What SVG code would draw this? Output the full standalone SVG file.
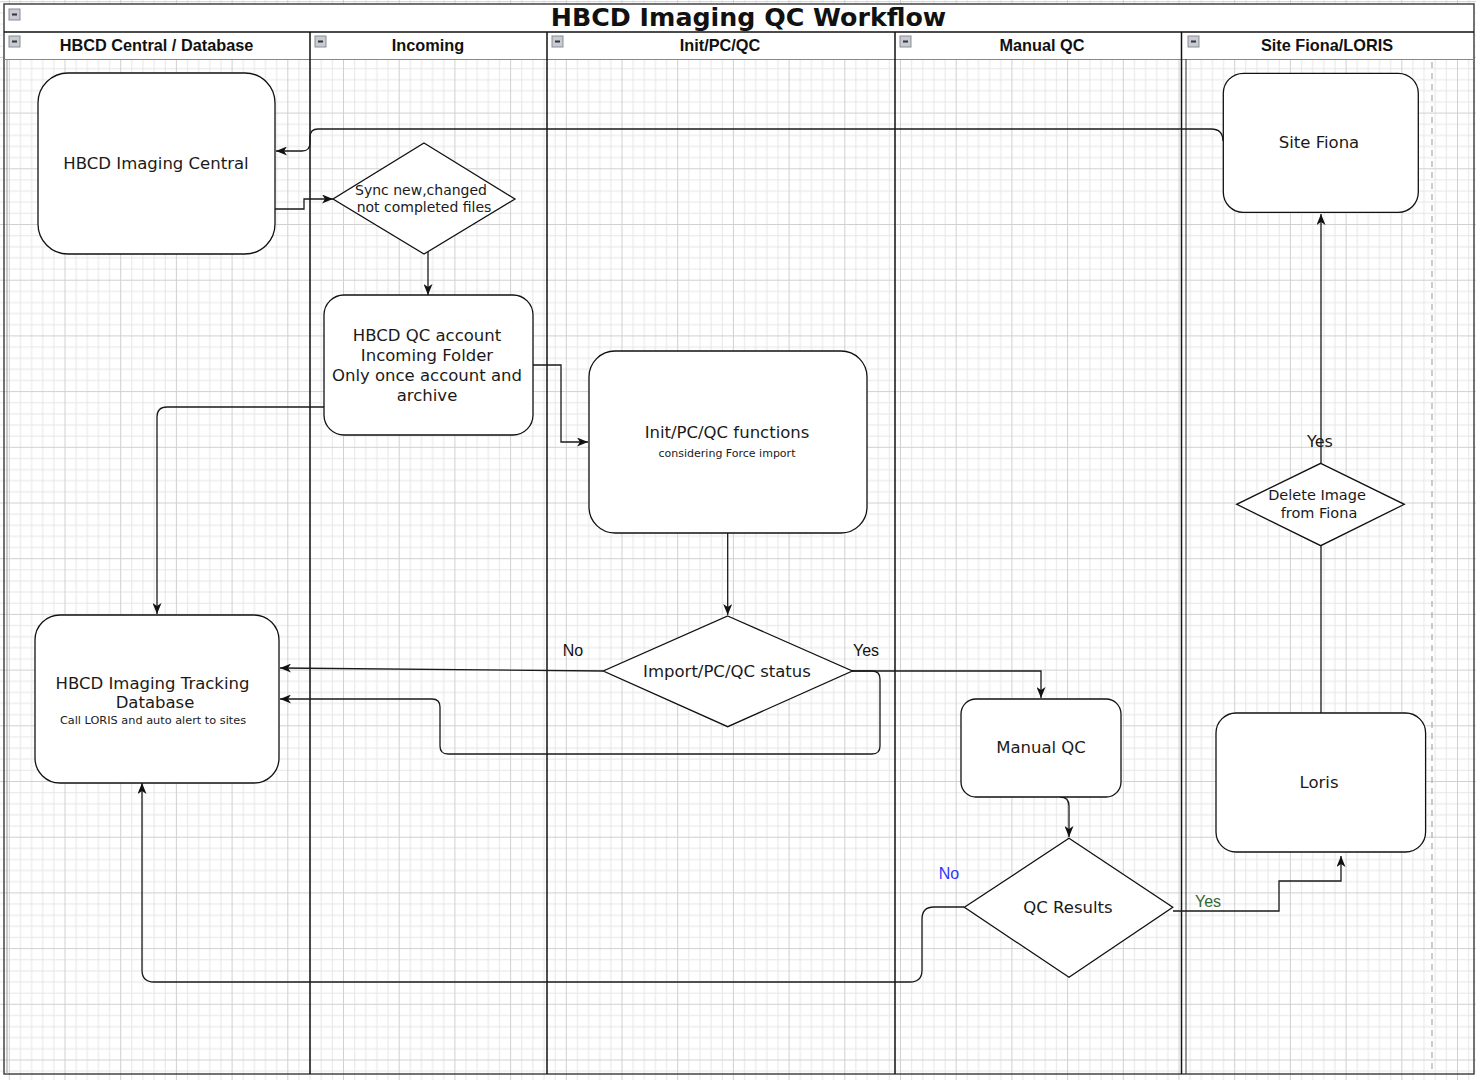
<svg xmlns="http://www.w3.org/2000/svg" width="1476" height="1080" viewBox="0 0 1476 1080">
<defs>
<pattern id="grid" width="55.7" height="55.7" patternUnits="userSpaceOnUse" x="8.8" y="1.2">
<path d="M11.64,0V55.7M22.78,0V55.7M33.92,0V55.7M45.06,0V55.7M0,11.64H55.7M0,22.78H55.7M0,33.92H55.7M0,45.06H55.7" stroke="#e6e6e6" stroke-width="1" fill="none"/>
<path d="M0.5,0V55.7M0,0.5H55.7" stroke="#d0d0d0" stroke-width="1" fill="none"/>
</pattern>
<marker id="arr" viewBox="0 0 11 9" refX="11" refY="4.5" markerWidth="11" markerHeight="9" markerUnits="userSpaceOnUse" orient="auto">
<path d="M0,0 L11,4.5 L0,9 L3,4.5 Z" fill="#111"/>
</marker>
<g id="icon">
<rect x="0" y="0" width="11" height="11" fill="#c9cbd3" stroke="#8a8d96" stroke-width="1"/>
<path d="M3,5.5H8" stroke="#333" stroke-width="2"/>
</g>
</defs>
<style>
.node{fill:#fff;stroke:#111;stroke-width:1.3}
.lbl{font-family:"DejaVu Sans",Verdana,sans-serif;font-size:16.5px;fill:#1a1a1a;text-anchor:middle}
.sm{font-family:"DejaVu Sans",Verdana,sans-serif;font-size:11px;fill:#1a1a1a;text-anchor:middle}
.dl{font-family:"DejaVu Sans",Verdana,sans-serif;font-size:14.5px;fill:#1a1a1a;text-anchor:middle}
.hd{font-family:"Liberation Sans",Arial,sans-serif;font-size:16.3px;font-weight:bold;fill:#111;text-anchor:middle}
.el{font-family:"Liberation Sans",Arial,sans-serif;font-size:16px;fill:#111;text-anchor:middle}
.cn{fill:none;stroke:#1a1a1a;stroke-width:1.3}
.lane{stroke:#111;stroke-width:1.5}
</style>
<rect width="1476" height="1080" fill="#fff"/>
<rect width="1476" height="1080" fill="url(#grid)"/>
<g id="pool">
<rect x="4" y="4" width="1470" height="55" fill="#fff"/>
<rect x="4" y="4" width="1470" height="1070" fill="none" stroke="#444" stroke-width="1.5"/>
<line x1="7" y1="59" x2="7" y2="1074" stroke="#999" stroke-width="1"/>
<line x1="4" y1="32" x2="1474" y2="32" class="lane"/>
<line x1="4" y1="59.5" x2="1474" y2="59.5" stroke="#888" stroke-width="1"/>
<line x1="310" y1="32" x2="310" y2="1074" class="lane"/>
<line x1="547" y1="32" x2="547" y2="1074" class="lane"/>
<line x1="895" y1="32" x2="895" y2="1074" class="lane"/>
<line x1="1181.5" y1="32" x2="1181.5" y2="1074" class="lane"/>
<line x1="1186" y1="59" x2="1186" y2="1074" stroke="#333" stroke-width="1"/>
<line x1="1432" y1="62" x2="1432" y2="1074" stroke="#aaa" stroke-width="1.2" stroke-dasharray="6 5"/>
<text x="748.5" y="26" font-family="'DejaVu Sans',Verdana,sans-serif" font-size="25.3" font-weight="bold" fill="#111" text-anchor="middle">HBCD Imaging QC Workflow</text>
<use href="#icon" x="9" y="9"/>
<use href="#icon" x="9" y="36"/>
<use href="#icon" x="315" y="36"/>
<use href="#icon" x="552" y="36"/>
<use href="#icon" x="900" y="36"/>
<use href="#icon" x="1188" y="36"/>
<text class="hd" x="156.5" y="51">HBCD Central / Database</text>
<text class="hd" x="428" y="51">Incoming</text>
<text class="hd" x="720" y="51">Init/PC/QC</text>
<text class="hd" x="1042" y="51">Manual QC</text>
<text class="hd" x="1327" y="51">Site Fiona/LORIS</text>
</g>
<g id="connectors">
<path class="cn" d="M1223,141 Q1223,129 1211,129 L318,129 Q310,129 310,137 L310,143 Q310,151 302,151 L276,151" marker-end="url(#arr)"/>
<path class="cn" d="M275,209 L304,209 L304,199 L333,199" marker-end="url(#arr)"/>
<path class="cn" d="M428,252 L428,295" marker-end="url(#arr)"/>
<path class="cn" d="M533,365 L561,365 L561,442 L588,442" marker-end="url(#arr)"/>
<path class="cn" d="M324,407 L167,407 Q157,407 157,417 L157,614" marker-end="url(#arr)"/>
<path class="cn" d="M727.7,533 L727.7,615" marker-end="url(#arr)"/>
<path class="cn" d="M603,671 L280,668" marker-end="url(#arr)"/>
<path class="cn" d="M852,671 L872,671 Q880,671 880,679 L880,746 Q880,754 872,754 L448,754 Q440,754 440,746 L440,707 Q440,699 432,699 L280,699" marker-end="url(#arr)"/>
<path class="cn" d="M852,671 L1041,671 L1041,698" marker-end="url(#arr)"/>
<path class="cn" d="M1060,797 Q1069,797 1069,806 L1069,837" marker-end="url(#arr)"/>
<path class="cn" d="M964,907 L934,907 Q922,907 922,919 L922,970 Q922,982 910,982 L154,982 Q142,982 142,970 L142,783" marker-end="url(#arr)"/>
<path class="cn" d="M1173,911 L1279,911 L1279,881 L1341,881 L1341,856" marker-end="url(#arr)"/>
<path class="cn" d="M1321,713 L1321,546"/>
<path class="cn" d="M1321,463 L1321,214" marker-end="url(#arr)"/>
<text class="el" x="573" y="656">No</text>
<text class="el" x="866" y="656">Yes</text>
<text class="el" x="949" y="879" style="fill:#3333ff">No</text>
<text class="el" x="1208" y="907" style="fill:#336633">Yes</text>
<text x="1320" y="447" font-family="'DejaVu Sans',Verdana,sans-serif" font-size="16" fill="#1a1a1a" text-anchor="middle">Yes</text>
</g>
<g id="central">
<rect class="node" x="38" y="73" width="237" height="181" rx="30"/>
<text class="lbl" x="156" y="169">HBCD Imaging Central</text>
</g>
<g id="sync">
<polygon class="node" points="424,143 515,199 424,254 333,199"/>
<text class="dl" x="421" y="195" style="font-size:14px">Sync new,changed</text>
<text class="dl" x="424" y="212" style="font-size:14px">not completed files</text>
</g>
<g id="incoming">
<rect class="node" x="324" y="295" width="209" height="140" rx="20"/>
<text class="lbl" x="427" y="341">HBCD QC account</text>
<text class="lbl" x="427" y="361">Incoming Folder</text>
<text class="lbl" x="427" y="381">Only once account and</text>
<text class="lbl" x="427" y="401">archive</text>
</g>
<g id="init">
<rect class="node" x="589" y="351" width="278" height="182" rx="26"/>
<text class="lbl" x="727" y="437.5">Init/PC/QC functions</text>
<text class="sm" x="727" y="457">considering Force import</text>
</g>
<g id="status">
<polygon class="node" points="727.7,616 852.3,671 727.7,726.7 603.3,671"/>
<text class="lbl" x="727" y="677">Import/PC/QC status</text>
</g>
<g id="tracking">
<rect class="node" x="35" y="615" width="244" height="168" rx="25"/>
<text class="lbl" x="152.5" y="689">HBCD Imaging Tracking</text>
<text class="lbl" x="155" y="708">Database</text>
<text class="sm" x="153" y="724" style="font-size:11.3px">Call LORIS and auto alert to sites</text>
</g>
<g id="manualqc">
<rect class="node" x="961" y="699" width="160" height="98" rx="15"/>
<text class="lbl" x="1041" y="753">Manual QC</text>
</g>
<g id="qcresults">
<polygon class="node" points="1069,838.3 1172.8,907.3 1069,977.3 964.4,907.3"/>
<text class="lbl" x="1068" y="913">QC Results</text>
</g>
<g id="loris">
<rect class="node" x="1216" y="713" width="209.6" height="139" rx="20"/>
<text class="lbl" x="1319" y="788">Loris</text>
</g>
<g id="delete">
<polygon class="node" points="1320.7,463.3 1404.3,504.3 1320.7,545.7 1236.7,504.3"/>
<text class="dl" x="1317" y="500">Delete Image</text>
<text class="dl" x="1319" y="518">from Fiona</text>
</g>
<g id="fiona">
<rect class="node" x="1223.3" y="73.3" width="195" height="139" rx="20"/>
<text class="lbl" x="1319" y="148">Site Fiona</text>
</g>
</svg>
